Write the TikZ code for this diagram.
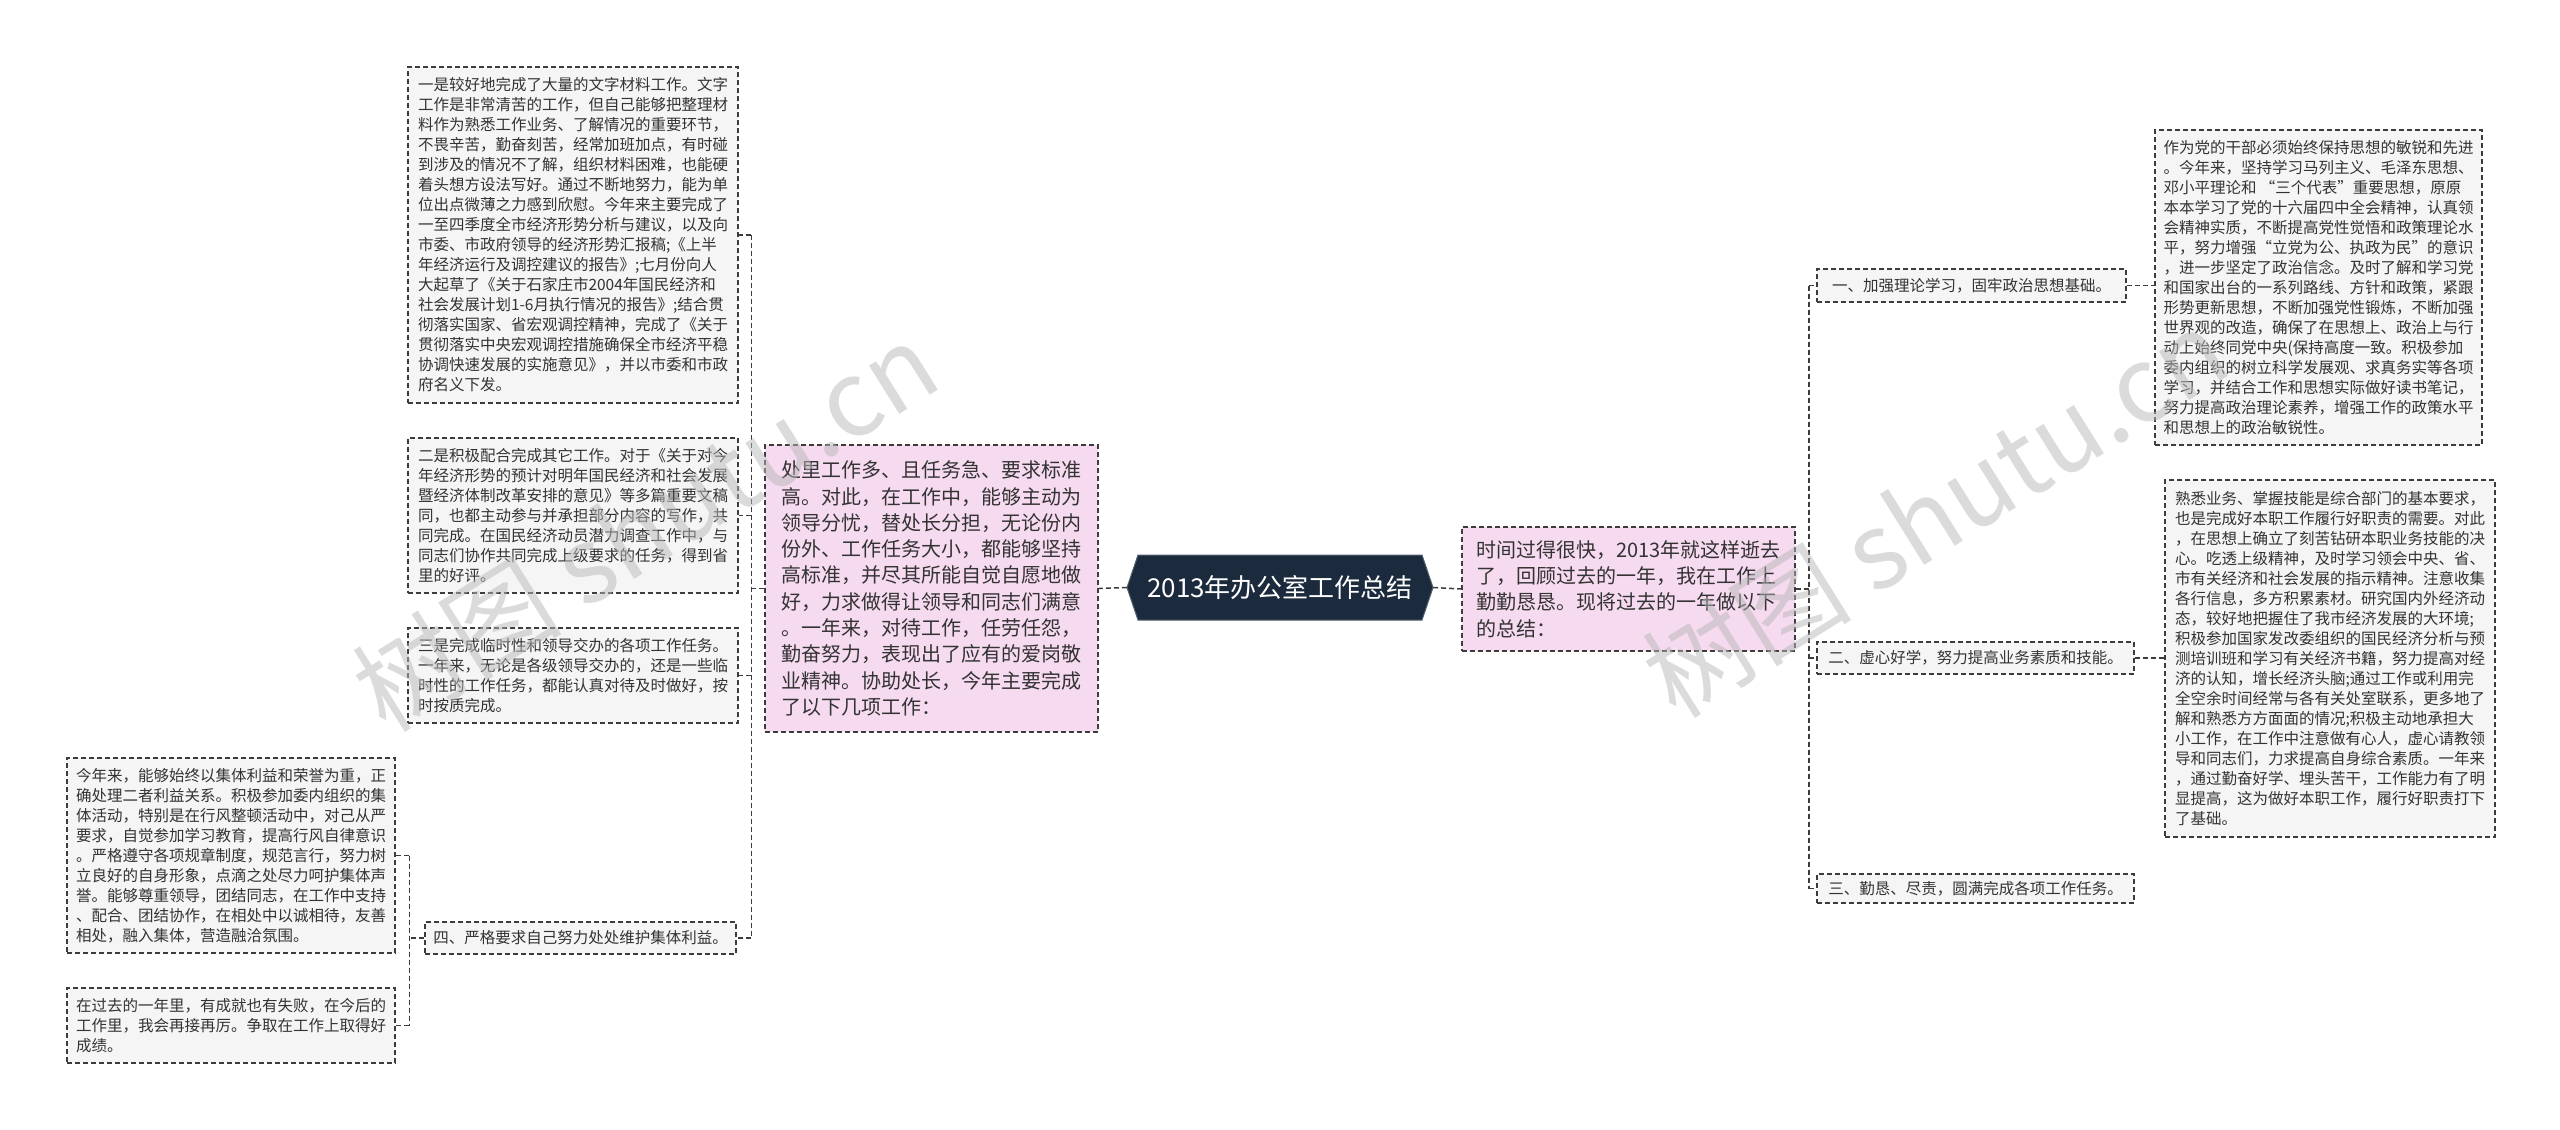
\documentclass[tikz,border=0pt]{standalone}
\usepackage{fontspec}
\setmainfont{Noto Sans CJK SC}
\usetikzlibrary{calc}
\definecolor{navy}{HTML}{1B2A3C}
\definecolor{navyedge}{HTML}{55606E}
\definecolor{lineclr}{HTML}{3C3C3C}
\definecolor{pinkfill}{HTML}{F6DAF0}
\definecolor{grayfill}{HTML}{F5F5F5}
\definecolor{txt}{HTML}{333333}
\definecolor{wmclr}{HTML}{B8B8B8}
\begin{document}
\begin{tikzpicture}[x=1pt,y=-1pt,
 leafbox/.style={draw=lineclr, line width=1.5pt, dash pattern=on 5pt off 3pt, fill=grayfill, text=txt, align=left, inner sep=0pt, font=\fontsize{15.5}{20}\selectfont},
 pinkbox/.style={leafbox, fill=pinkfill, font=\fontsize{20}{26.3}\selectfont},
 conn/.style={draw=lineclr, line width=1.5pt, dash pattern=on 5pt off 3pt},
 wm/.style={text=wmclr, opacity=0.5, rotate=32, font=\fontsize{105}{110}\selectfont}]
\useasboundingbox (0,0) rectangle (2560,1130);
\fill[white] (0,0) rectangle (2560,1130);

% centre
\fill[navy, draw=navyedge, line width=1pt] (1138,555) -- (1422,555) -- (1433,587.5) -- (1422,620) -- (1138,620) -- (1127,587.5) -- cycle;
\node[inner sep=0pt, minimum width=306, minimum height=65, text=white, font=\fontsize{26}{30}\selectfont] (H) at (1280,587.5) {2013年办公室工作总结};

% left side
\node[pinkbox, minimum width=333, minimum height=287] (G) at (931.5,588.5) {处里工作多、且任务急、要求标准\\高。对此，在工作中，能够主动为\\领导分忧，替处长分担，无论份内\\份外、工作任务大小，都能够坚持\\高标准，并尽其所能自觉自愿地做\\好，力求做得让领导和同志们满意\\。一年来，对待工作，任劳任怨，\\勤奋努力，表现出了应有的爱岗敬\\业精神。协助处长，今年主要完成\\了以下几项工作：};

\node[leafbox, minimum width=330, minimum height=336] (A) at (573,235) {一是较好地完成了大量的文字材料工作。文字\\工作是非常清苦的工作，但自己能够把整理材\\料作为熟悉工作业务、了解情况的重要环节，\\不畏辛苦，勤奋刻苦，经常加班加点，有时碰\\到涉及的情况不了解，组织材料困难，也能硬\\着头想方设法写好。通过不断地努力，能为单\\位出点微薄之力感到欣慰。今年来主要完成了\\一至四季度全市经济形势分析与建议，以及向\\市委、市政府领导的经济形势汇报稿;《上半\\年经济运行及调控建议的报告》;七月份向人\\大起草了《关于石家庄市2004年国民经济和\\社会发展计划1-6月执行情况的报告》;结合贯\\彻落实国家、省宏观调控精神，完成了《关于\\贯彻落实中央宏观调控措施确保全市经济平稳\\协调快速发展的实施意见》，并以市委和市政\\府名义下发。};

\node[leafbox, minimum width=330, minimum height=155] (B) at (573,515.5) {二是积极配合完成其它工作。对于《关于对今\\年经济形势的预计对明年国民经济和社会发展\\暨经济体制改革安排的意见》等多篇重要文稿\\同，也都主动参与并承担部分内容的写作，共\\同完成。在国民经济动员潜力调查工作中，与\\同志们协作共同完成上级要求的任务，得到省\\里的好评。};

\node[leafbox, minimum width=330, minimum height=95] (C) at (573,675.5) {三是完成临时性和领导交办的各项工作任务。\\一年来，无论是各级领导交办的，还是一些临\\时性的工作任务，都能认真对待及时做好，按\\时按质完成。};

\node[leafbox, minimum width=311, minimum height=32] (F) at (580.5,938) {四、严格要求自己努力处处维护集体利益。};

\node[leafbox, minimum width=328, minimum height=195] (D) at (231,855.5) {今年来，能够始终以集体利益和荣誉为重，正\\确处理二者利益关系。积极参加委内组织的集\\体活动，特别是在行风整顿活动中，对己从严\\要求，自觉参加学习教育，提高行风自律意识\\。严格遵守各项规章制度，规范言行，努力树\\立良好的自身形象，点滴之处尽力呵护集体声\\誉。能够尊重领导，团结同志，在工作中支持\\、配合、团结协作，在相处中以诚相待，友善\\相处，融入集体，营造融洽氛围。};

\node[leafbox, minimum width=328, minimum height=75] (E) at (231,1025.5) {在过去的一年里，有成就也有失败，在今后的\\工作里，我会再接再厉。争取在工作上取得好\\成绩。};

% right side
\node[pinkbox, minimum width=333, minimum height=124] (I) at (1628.5,589) {时间过得很快，2013年就这样逝去\\了，回顾过去的一年，我在工作上\\勤勤恳恳。现将过去的一年做以下\\的总结：};

\node[leafbox, minimum width=309, minimum height=33] (L1) at (1971.5,285.5) {一、加强理论学习，固牢政治思想基础。};
\node[leafbox, minimum width=317, minimum height=32] (L2) at (1975.5,658) {二、虚心好学，努力提高业务素质和技能。};
\node[leafbox, minimum width=317, minimum height=29] (L3) at (1975.5,888.5) {三、勤恳、尽责，圆满完成各项工作任务。};

\node[leafbox, minimum width=327, minimum height=315] (J) at (2318.5,287.5) {作为党的干部必须始终保持思想的敏锐和先进\\。今年来，坚持学习马列主义、毛泽东思想、\\邓小平理论和 “三个代表”重要思想，原原\\本本学习了党的十六届四中全会精神，认真领\\会精神实质，不断提高党性觉悟和政策理论水\\平，努力增强“立党为公、执政为民”的意识\\，进一步坚定了政治信念。及时了解和学习党\\和国家出台的一系列路线、方针和政策，紧跟\\形势更新思想，不断加强党性锻炼，不断加强\\世界观的改造，确保了在思想上、政治上与行\\动上始终同党中央(保持高度一致。积极参加\\委内组织的树立科学发展观、求真务实等各项\\学习，并结合工作和思想实际做好读书笔记，\\努力提高政治理论素养，增强工作的政策水平\\和思想上的政治敏锐性。};

\node[leafbox, minimum width=330, minimum height=357] (K) at (2330,658.5) {熟悉业务、掌握技能是综合部门的基本要求，\\也是完成好本职工作履行好职责的需要。对此\\，在思想上确立了刻苦钻研本职业务技能的决\\心。吃透上级精神，及时学习领会中央、省、\\市有关经济和社会发展的指示精神。注意收集\\各行信息，多方积累素材。研究国内外经济动\\态，较好地把握住了我市经济发展的大环境;\\积极参加国家发改委组织的国民经济分析与预\\测培训班和学习有关经济书籍，努力提高对经\\济的认知，增长经济头脑;通过工作或利用完\\全空余时间经常与各有关处室联系，更多地了\\解和熟悉方方面面的情况;积极主动地承担大\\小工作，在工作中注意做有心人，虚心请教领\\导和同志们，力求提高自身综合素质。一年来\\，通过勤奋好学、埋头苦干，工作能力有了明\\显提高，这为做好本职工作，履行好职责打下\\了基础。};

% connectors
\draw[conn] (H.west) -- (G.east);
\draw[conn] (G.west) -- ++(-13,0) coordinate (ls);
\draw[conn] (ls |- A.east) -- (ls |- F.east);
\draw[conn] (ls |- A.east) -- (A.east);
\draw[conn] (ls |- B.east) -- (B.east);
\draw[conn] (ls |- C.east) -- (C.east);
\draw[conn] (ls |- F.east) -- (F.east);
\draw[conn] (F.west) -- ++(-15,0) coordinate (fs);
\draw[conn] (fs |- D.east) -- (fs |- E.east);
\draw[conn] (fs |- D.east) -- (D.east);
\draw[conn] (fs |- E.east) -- (E.east);

\draw[conn] (H.east) -- (I.west);
\draw[conn] (I.east) -- ++(13,0) coordinate (rs);
\draw[conn] (rs |- L1.west) -- (rs |- L3.west);
\draw[conn] (rs |- L1.west) -- (L1.west);
\draw[conn] (rs |- L2.west) -- (L2.west);
\draw[conn] (rs |- L3.west) -- (L3.west);
\draw[conn] (L1.east) -- (L1.east -| J.west);
\draw[conn] (L2.east) -- (L2.east -| K.west);

% watermarks
\node[wm] (wm1) at (645,526) {树图 shutu.cn};
\node[wm] (wm2) at (1935,512) {树图 shutu.cn};
\end{tikzpicture}
\end{document}
